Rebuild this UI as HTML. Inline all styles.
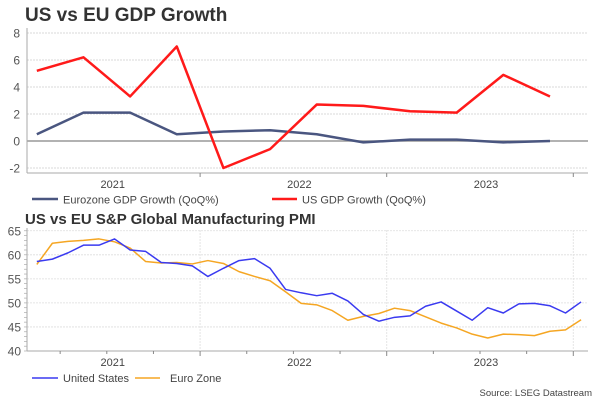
<!DOCTYPE html>
<html><head><meta charset="utf-8"><style>
body{margin:0;background:#fff;}
svg{display:block;font-family:"Liberation Sans",Arial,sans-serif;}
</style></head><body>
<svg id="c" width="600" height="400" viewBox="0 0 600 400">
<text x="25" y="21" font-size="19" font-weight="bold" fill="#333">US vs EU GDP Growth</text>
<text x="25" y="224" font-size="15" font-weight="bold" fill="#333">US vs EU S&amp;P Global Manufacturing PMI</text>
<g id="topg"></g>
<g id="botg"></g>
<line x1="32" y1="199" x2="58" y2="199" stroke="#4a5680" stroke-width="2.5"/>
<text x="63" y="203.5" font-size="11" fill="#444">Eurozone GDP Growth (QoQ%)</text>
<line x1="272" y1="199" x2="297" y2="199" stroke="#ff1a1a" stroke-width="2.5"/>
<text x="302" y="203.5" font-size="11" fill="#444">US GDP Growth (QoQ%)</text>
<line x1="32" y1="378" x2="58" y2="378" stroke="#3a3af0" stroke-width="1.5"/>
<text x="63" y="382" font-size="11" fill="#444">United States</text>
<line x1="135" y1="378" x2="160" y2="378" stroke="#f5a623" stroke-width="1.5"/>
<text x="170" y="382" font-size="11" fill="#444">Euro Zone</text>
<text x="592" y="396" font-size="9.5" fill="#444" text-anchor="end">Source: LSEG Datastream</text>
</svg>
<script>
const gdpQuarters=["2021Q1","2021Q2","2021Q3","2021Q4","2022Q1","2022Q2","2022Q3","2022Q4","2023Q1","2023Q2","2023Q3","2023Q4"];
const usGdp=[5.2,6.2,3.3,7.0,-2.0,-0.6,2.7,2.6,2.2,2.1,4.9,3.3];
const euGdp=[0.5,2.1,2.1,0.5,0.7,0.8,0.5,-0.1,0.1,0.1,-0.1,0.0];
const gdpTicks=[-2,0,2,4,6,8];
const yearLabels=["2021","2022","2023"];
const pmiMonthIndex=[1,2,3,4,5,6,7,8,9,10,11,12,13,14,15,16,17,18,19,20,21,22,23,24,25,26,27,28,29,30,31,32,33,34,35,36];
const usPmi=[58.6,59.1,60.4,62.0,62.0,63.3,61.0,60.7,58.4,58.2,57.7,55.5,57.2,58.8,59.2,57.2,52.8,52.1,51.5,52.0,50.4,47.6,46.2,47.0,47.3,49.3,50.2,48.3,46.4,49.0,47.9,49.8,49.9,49.4,47.9,50.2];
const euPmi=[58.0,62.4,62.8,63.0,63.3,62.7,61.4,58.6,58.3,58.4,58.1,58.8,58.2,56.5,55.5,54.6,52.3,49.9,49.6,48.4,46.4,47.2,47.8,48.9,48.4,47.1,45.8,44.8,43.5,42.7,43.5,43.4,43.2,44.1,44.4,46.5];
const pmiTicks=[40,45,50,55,60,65];

const NS="http://www.w3.org/2000/svg";
function mk(p,t,a){const e=document.createElementNS(NS,t);for(const k in a)e.setAttribute(k,a[k]);p.appendChild(e);return e;}
const X0=13.5,YEAR=186.6,L=27,R=588;
const qx=i=>X0+YEAR/4*(i+0.5);
const mx=m=>X0+YEAR/12*(m+0.5);

const topG=document.getElementById('topg');
const ty=v=>141-(v*13.5);
gdpTicks.forEach(v=>{
 const g=mk(topG,'line',{x1:L,x2:R,y1:ty(v),y2:ty(v),stroke:v===0?'#999':'#ccc','stroke-width':v===0?1.5:0.8,'stroke-dasharray':v===0?'':'2,1'});
 
 
 const t=mk(topG,'text',{x:20,y:ty(v)+4.5,'font-size':12,fill:'#555','text-anchor':'end'});t.textContent=v;
 
 
});
mk(topG,'line',{x1:L,x2:L,y1:28,y2:173,stroke:'#aaa','stroke-width':1});
mk(topG,'line',{x1:L,x2:R,y1:173,y2:173,stroke:'#aaa','stroke-width':1});
yearLabels.forEach((y,i)=>{
 const bx=X0+YEAR*(i+1);
 mk(topG,'line',{x1:bx,x2:bx,y1:173,y2:177,stroke:'#888'});
 const t=mk(topG,'text',{x:X0+YEAR*(i+0.5)+6,y:188,'font-size':11,fill:'#444','text-anchor':'middle'});t.textContent=y;
 
 
});
function poly(p,xs,ys,col,w,name){
 const e=mk(p,'polyline',{points:xs.map((x,i)=>x+','+ys[i]).join(' '),fill:'none',stroke:col,'stroke-width':w,'stroke-linejoin':'round'});
 
 
}
poly(topG,euGdp.map((v,i)=>qx(i)),euGdp.map(ty),'#4a5680',2.5,'eurozone-gdp-line');
poly(topG,usGdp.map((v,i)=>qx(i)),usGdp.map(ty),'#ff1a1a',2.5,'us-gdp-line');

const botG=document.getElementById('botg');
const by=v=>351-(v-40)*4.81;
pmiTicks.forEach(v=>{
 if(v>40){const g=mk(botG,'line',{x1:L,x2:R,y1:by(v),y2:by(v),stroke:'#ddd','stroke-width':0.8,'stroke-dasharray':'2,1'});
 
 }
 const t=mk(botG,'text',{x:21,y:by(v)+4.5,'font-size':12,fill:'#555','text-anchor':'end'});t.textContent=v;
 
 
});
for(let v=40;v<=65;v++) mk(botG,'line',{x1:L-3,x2:L,y1:by(v),y2:by(v),stroke:'#aaa','stroke-width':0.7});
mk(botG,'line',{x1:L,x2:L,y1:228,y2:351,stroke:'#aaa'});
mk(botG,'line',{x1:L,x2:R,y1:351,y2:351,stroke:'#aaa'});
for(let q=1;q<13;q++){const x=X0+YEAR/4*q;mk(botG,'line',{x1:x,x2:x,y1:351,y2:q%4===0?356:354,stroke:'#888'});}
yearLabels.forEach((y,i)=>{
 const bx=X0+YEAR*(i+1);
 mk(botG,'line',{x1:bx,x2:bx,y1:230,y2:351,stroke:'#e4e4e4','stroke-dasharray':'2,1'});
 const t=mk(botG,'text',{x:X0+YEAR*(i+0.5)+6,y:366,'font-size':11,fill:'#444','text-anchor':'middle'});t.textContent=y;
 
 
});
poly(botG,pmiMonthIndex.map(mx),euPmi.map(by),'#f5a623',1.5,'euro-zone-pmi-line');
poly(botG,pmiMonthIndex.map(mx),usPmi.map(by),'#3a3af0',1.5,'us-pmi-line');
</script>
</body></html>
